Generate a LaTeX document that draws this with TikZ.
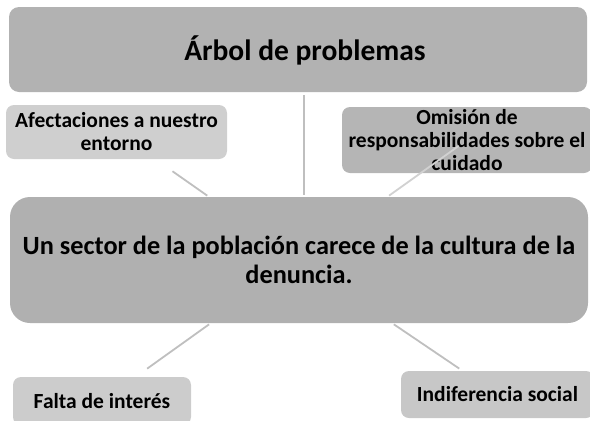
\documentclass[tikz,border=0pt]{standalone}
\usepackage{fontspec}
\setmainfont{Carlito}
\begin{document}
\begin{tikzpicture}[x=1pt,y=-1pt,
  box/.style={rectangle, rounded corners=#1, inner sep=0pt, align=center, font=\bfseries},
  small/.style={font=\fontsize{21.5}{23}\selectfont\bfseries},
  conn/.style={draw=black!25, line width=1.8pt}]
\useasboundingbox (0,0) rectangle (590,421);
\clip (0,0) rectangle (590,421);
\node[box=10pt, fill=black!30, minimum width=578pt, minimum height=85pt] (topbox) at (298,49.5) {};
\node[font=\fontsize{29.5}{33}\selectfont\bfseries] (title) at (305,50) {Árbol de problemas};
\node[box=8pt, fill=black!19, minimum width=221pt, minimum height=54pt, small] (afect) at (116.5,132) {Afectaciones a nuestro\\entorno};
\node[box=8pt, fill=black!29, minimum width=250pt, minimum height=66pt, small] (omis) at (467,140) {Omisión de\\responsabilidades sobre el\\cuidado};
\node[box=20pt, fill=black!31, minimum width=578pt, minimum height=126pt,
      font=\fontsize{26.3}{29}\selectfont\bfseries] (main) at (299,260) {Un sector de la población carece de la cultura de la\\denuncia.};
\node[box=8pt, fill=black!20, minimum width=178pt, minimum height=48pt, small] (falta) at (102,401) {Falta de interés};
\node[box=8pt, fill=black!22, minimum width=193pt, minimum height=47pt, small] (indif) at (497.5,394.5) {Indiferencia social};
\coordinate (vtop) at (304,95);
\coordinate (vbot) at (304,195);
\draw[conn] (vtop) -- (vbot);
\draw[conn, shorten <=2pt, shorten >=21pt] (main) -- (afect);
\draw[conn, draw=black!18, shorten <=2pt, shorten >=10pt] (main) -- (omis.center);
\draw[conn, shorten <=2pt, shorten >=14pt] (main) -- (falta);
\draw[conn, shorten <=2pt, shorten >=4pt] (main) -- (indif);
\end{tikzpicture}
\end{document}
